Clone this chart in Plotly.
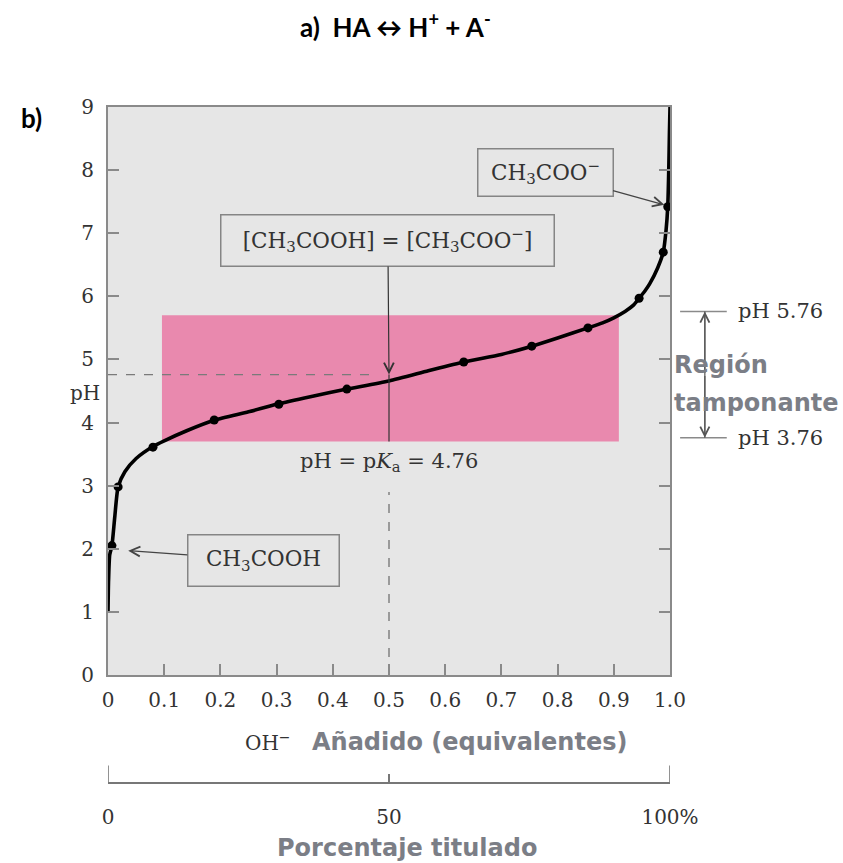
import plotly.graph_objects as go

# Titration curve of acetic acid with OH-
curve_x = [0.0, 0.001, 0.003, 0.007, 0.012, 0.018, 0.03, 0.05, 0.08, 0.10, 0.14, 0.19,
           0.25, 0.30, 0.36, 0.425, 0.50, 0.57, 0.633, 0.70, 0.754, 0.80, 0.854, 0.88,
           0.90, 0.92, 0.935, 0.945, 0.955, 0.964, 0.978, 0.988, 0.993, 0.996, 0.998,
           0.999, 1.0]
curve_ph = [1.0, 1.5, 1.9, 2.05, 2.5, 2.98, 3.22, 3.43, 3.62, 3.71, 3.87, 4.04,
            4.17, 4.29, 4.41, 4.53, 4.66, 4.82, 4.96, 5.08, 5.21, 5.34, 5.50, 5.58,
            5.66, 5.76, 5.86, 5.97, 6.08, 6.20, 6.45, 6.70, 7.05, 7.42, 8.10,
            8.60, 9.0]

# Measured points
dot_x = [0.007, 0.018, 0.080, 0.189, 0.304, 0.425, 0.633, 0.754, 0.854, 0.945, 0.988, 0.996]
dot_ph = [2.05, 2.98, 3.61, 4.04, 4.29, 4.53, 4.96, 5.21, 5.50, 5.97, 6.70, 7.42]

x_ticks = [0.0, 0.1, 0.2, 0.3, 0.4, 0.5, 0.6, 0.7, 0.8, 0.9, 1.0]
x_ticktext = ["0", "0.1", "0.2", "0.3", "0.4", "0.5", "0.6", "0.7", "0.8", "0.9", "1.0"]
y_ticks = [0, 1, 2, 3, 4, 5, 6, 7, 8, 9]
pct_ticks = [0, 50, 100]
pct_ticktext = ["0", "50", "100%"]

pka = 4.76
buffer_low, buffer_high = 3.76, 5.76
buffer_band_x = [0.096, 0.909]
buffer_band_ph = [3.70, 5.70]

SERIF = "DejaVu Serif"
SANS = "DejaVu Sans"
INK = "#333333"
GRAY_TXT = "#7b7e86"
AXIS = "#8a8a8a"

fig = go.Figure()

fig.add_trace(go.Scatter(x=curve_x, y=curve_ph, mode="lines",
                         line=dict(color="black", width=3.6, shape="spline", smoothing=0.6),
                         hoverinfo="skip", showlegend=False))
fig.add_trace(go.Scatter(x=dot_x, y=dot_ph, mode="markers",
                         marker=dict(color="black", size=9),
                         hoverinfo="skip", showlegend=False))
# carrier trace for the percentage axis
fig.add_trace(go.Scatter(x=[pct_ticks[0], pct_ticks[-1]], y=[0, 0], mode="markers",
                         marker=dict(opacity=0), xaxis="x2", yaxis="y",
                         hoverinfo="skip", showlegend=False))

shapes = [
    # buffer region band
    dict(type="rect", xref="x", yref="y", x0=buffer_band_x[0], x1=buffer_band_x[1],
         y0=buffer_band_ph[0], y1=buffer_band_ph[1], fillcolor="#e989ae",
         line=dict(width=0), layer="below"),
    # pKa guides
    dict(type="line", xref="x", yref="y", x0=0, x1=0.475, y0=pka, y1=pka,
         line=dict(color="#7a7a7a", width=1.4, dash="dash"), layer="below"),
    dict(type="line", xref="x", yref="y", x0=0.5, x1=0.5, y0=0, y1=2.9,
         line=dict(color="#7a7a7a", width=1.4, dash="dash"), layer="below"),
    dict(type="line", xref="x", yref="y", x0=0.5, x1=0.5, y0=buffer_band_ph[0], y1=pka,
         line=dict(color="#333333", width=1.2)),
    # buffer bracket on the right
    dict(type="line", xref="paper", yref="y", x0=1.018, x1=1.101, y0=buffer_high, y1=buffer_high,
         line=dict(color=AXIS, width=1.5)),
    dict(type="line", xref="paper", yref="y", x0=1.018, x1=1.101, y0=buffer_low, y1=buffer_low,
         line=dict(color=AXIS, width=1.5)),
    dict(type="line", xref="paper", yref="y", x0=1.062, x1=1.062, y0=buffer_low, y1=buffer_high,
         line=dict(color="#555555", width=1.2)),
    # end marks of the percentage scale
    dict(type="line", xref="x", yref="paper", x0=0, x1=0, y0=0, y1=0.026,
         line=dict(color="#777777", width=1.6)),
    dict(type="line", xref="x", yref="paper", x0=1, x1=1, y0=0, y1=0.026,
         line=dict(color="#777777", width=1.6)),
]


def label(text, x, y, size, family, color, xanchor="center", xref="paper", yref="paper"):
    return dict(text=text, x=x, y=y, xref=xref, yref=yref, xanchor=xanchor,
                yanchor="middle", showarrow=False,
                font=dict(family=family, size=size, color=color))


annotations = [
    label("<b>a)  HA ↔ H<sup>+</sup> + A<sup>-</sup></b>", 0.511, 1.121, 26, "Lato", "black"),
    label("<b>b)</b>", -0.137, 0.984, 26, "Lato", "black"),
    label("pH", -0.041, 0.577, 20, SERIF, INK),
    # labelled arrows
    dict(text="[CH<sub>3</sub>COOH] = [CH<sub>3</sub>COO<sup>−</sup>]", x=0.5, y=pka,
         xref="x", yref="y", ax=0.498, ay=6.88, axref="x", ayref="y",
         showarrow=True, arrowhead=5, arrowsize=1.6, arrowwidth=1.2, arrowcolor="#333333",
         width=326, height=44, borderpad=3, bordercolor="#858585", borderwidth=1.5,
         font=dict(family=SERIF, size=21.5, color=INK)),
    dict(text="CH<sub>3</sub>COO<sup>−</sup>", x=0.99, y=7.45, xref="x", yref="y",
         ax=0.778, ay=7.97, axref="x", ayref="y",
         showarrow=True, arrowhead=5, arrowsize=1.6, arrowwidth=1.2, arrowcolor="#444444",
         width=128, height=40, borderpad=3, bordercolor="#858585", borderwidth=1.5,
         font=dict(family=SERIF, size=21.5, color=INK)),
    dict(text="CH<sub>3</sub>COOH", x=0.036, y=1.97, xref="x", yref="y",
         ax=0.276, ay=1.82, axref="x", ayref="y",
         showarrow=True, arrowhead=5, arrowsize=1.6, arrowwidth=1.2, arrowcolor="#444444",
         width=144, height=44, borderpad=3, bordercolor="#858585", borderwidth=1.5,
         font=dict(family=SERIF, size=21.5, color=INK)),
    label("pH = p<i>K</i><sub>a</sub> = 4.76", 0.5, 3.38, 21, SERIF, INK, xref="x", yref="y"),
    # buffer bracket
    dict(text="", x=1.062, y=buffer_high, xref="paper", yref="y", ax=0, ay=pka,
         axref="pixel", ayref="y", showarrow=True, arrowhead=5, arrowsize=1.5,
         arrowwidth=1.2, arrowcolor="#555555"),
    dict(text="", x=1.062, y=buffer_low, xref="paper", yref="y", ax=0, ay=pka,
         axref="pixel", ayref="y", showarrow=True, arrowhead=5, arrowsize=1.5,
         arrowwidth=1.2, arrowcolor="#555555"),
    label(f"pH {buffer_high:.2f}", 1.117, buffer_high, 21, SERIF, INK, xanchor="left", yref="y"),
    label(f"pH {buffer_low:.2f}", 1.117, buffer_low, 21, SERIF, INK, xanchor="left", yref="y"),
    label("<b>Región</b>", 1.0036, 0.618, 24, SANS, GRAY_TXT, xanchor="left"),
    label("<b>tamponante</b>", 1.0036, 0.562, 24, SANS, GRAY_TXT, xanchor="left"),
    # axis titles
    label("OH<sup>−</sup>", 0.329, 0.0607, 20, SERIF, INK, xanchor="right"),
    label("<b>Añadido (equivalentes)</b>", 0.359, 0.0607, 24, SANS, GRAY_TXT, xanchor="left"),
    label("<b>Porcentaje titulado</b>", 0.532, -0.096, 24, SANS, GRAY_TXT),
]

fig.update_layout(
    width=843, height=863,
    margin=dict(l=108, r=173, t=107, b=80),
    paper_bgcolor="white", plot_bgcolor="#e6e6e6",
    showlegend=False,
    shapes=shapes, annotations=annotations,
    xaxis=dict(range=[0, 1.0], tickvals=x_ticks, ticktext=x_ticktext, ticks="inside",
               ticklen=11, tickwidth=1.5, tickcolor=AXIS, showline=True, linecolor=AXIS,
               linewidth=2, mirror=True, showgrid=False, zeroline=False, anchor="y",
               ticklabelstandoff=6,
               tickfont=dict(family=SERIF, size=20, color=INK)),
    yaxis=dict(range=[0, 9], domain=[0.1598, 1], tickvals=y_ticks, ticks="inside",
               ticklen=11, tickwidth=1.5, tickcolor=AXIS, showline=True, linecolor=AXIS,
               linewidth=2, mirror="ticks", showgrid=False, zeroline=False,
               ticklabelstandoff=8,
               tickfont=dict(family=SERIF, size=20, color=INK)),
    xaxis2=dict(range=[0, 100], overlaying="x", anchor="free", position=0, side="bottom",
                tickvals=pct_ticks, ticktext=pct_ticktext, ticks="inside", ticklen=8,
                tickwidth=1.5, tickcolor="#777777", showline=True, linecolor="#777777",
                linewidth=2, showgrid=False, zeroline=False, ticklabelstandoff=16,
                tickfont=dict(family=SERIF, size=20, color=INK)),
)

fig.write_html("out.html")
